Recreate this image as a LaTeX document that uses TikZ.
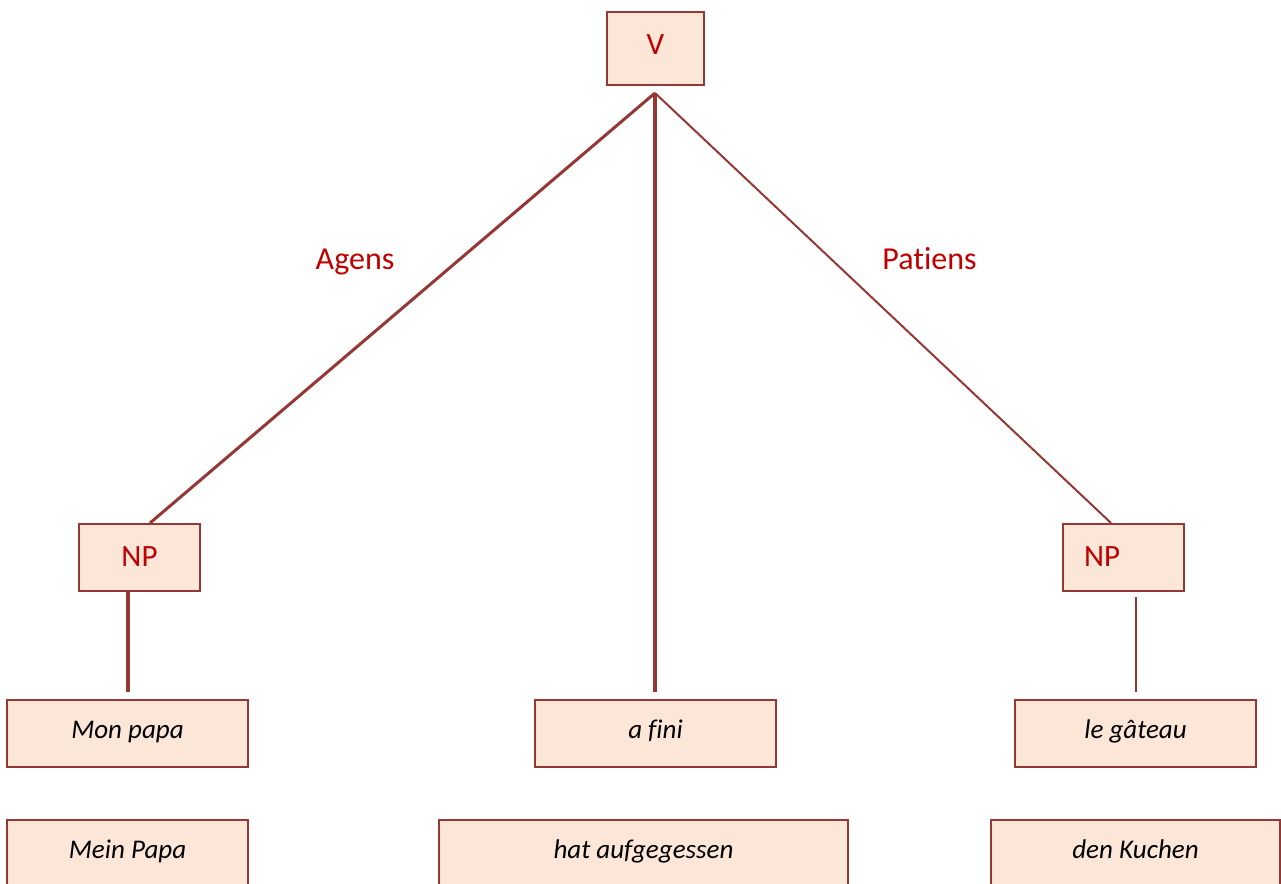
\documentclass[tikz,border=0pt]{standalone}
\usepackage{fontspec}
\setmainfont[Ligatures=NoCommon]{Carlito}
\definecolor{bordr}{RGB}{149,55,53}
\definecolor{boxfill}{RGB}{251,230,216}
\definecolor{lbl}{RGB}{192,0,0}
\begin{document}
\begin{tikzpicture}[x=1pt,y=-1pt,
  catbox/.style={draw=bordr,fill=boxfill,line width=2pt,inner sep=0pt,
    text height=22pt,text depth=5pt,
    font=\fontsize{31}{36}\selectfont,text=lbl},
  wordbox/.style={draw=bordr,fill=boxfill,line width=2pt,inner sep=0pt,
    text height=17pt,text depth=8pt,
    minimum height=67pt,font=\fontsize{27}{32}\selectfont\itshape,text=black},
  edge/.style={draw=bordr},
  rel/.style={font=\fontsize{32}{38}\selectfont,text=lbl,inner sep=0pt,anchor=base}]
\useasboundingbox (0,0) rectangle (1281,883);
\clip (0,0) rectangle (1281,883);
\node[catbox,minimum width=97pt,minimum height=73pt,text depth=9pt] (V) at (655.5,48.5) {V};
\node[catbox,minimum width=121pt,minimum height=67pt] (npL) at (139.5,557.5) {NP};
\node[catbox,minimum width=121pt,minimum height=67pt,text width=79pt,align=left] (npR) at (1123.5,557.5) {NP};
\node[wordbox,minimum width=241pt] (w1) at (127.5,733.5) {Mon papa};
\node[wordbox,minimum width=241pt] (w2) at (655.5,733.5) {a fini};
\node[wordbox,minimum width=241pt] (w3) at (1135.5,733.5) {le gâteau};
\node[wordbox,minimum width=241pt] (g1) at (127.5,853.5) {Mein Papa};
\node[wordbox,minimum width=409pt] (g2) at (643.5,853.5) {hat aufgegessen};
\node[wordbox,minimum width=289pt] (g3) at (1135.5,853.5) {den Kuchen};
\node[rel] (agens) at (355,269) {Agens};
\node[rel] (patiens) at (929.5,269) {Patiens};
\coordinate (apex) at (655,93);
\coordinate (midEnd) at (655,692);
\coordinate (lEnd) at (128,692);
\coordinate (rTop) at (1136,597);
\coordinate (rEnd) at (1136,692);
\draw[edge,line width=3pt] (apex) -- ([xshift=10.5pt]npL.north);
\draw[edge,line width=4pt] (apex) -- (midEnd);
\draw[edge,line width=2pt] (apex) -- ([xshift=-12.5pt]npR.north);
\draw[edge,line width=3.5pt] ([xshift=-11.5pt]npL.south) -- (lEnd);
\draw[edge,line width=2pt] (rTop) -- (rEnd);
\end{tikzpicture}
\end{document}
